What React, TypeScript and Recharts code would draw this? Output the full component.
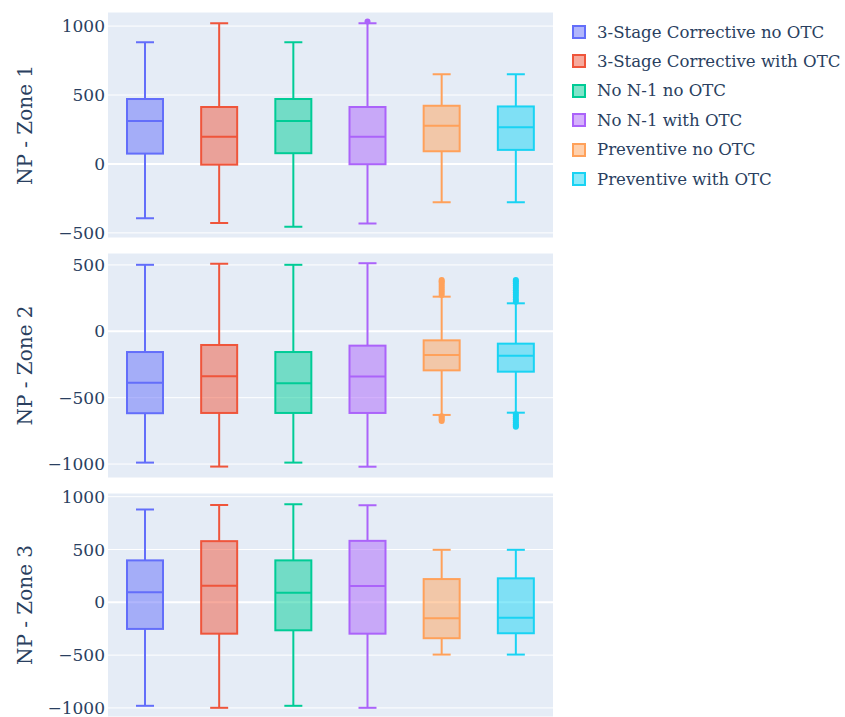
import React from 'react';
import { ComposedChart, Bar, XAxis, YAxis, CartesianGrid } from 'recharts';

const categories = [
  '3-Stage Corrective no OTC',
  '3-Stage Corrective with OTC',
  'No N-1 no OTC',
  'No N-1 with OTC',
  'Preventive no OTC',
  'Preventive with OTC',
];
const colors = ['#636EFA', '#EF553B', '#00CC96', '#AB63FA', '#FFA15A', '#19D3F3'];

// Zone 1
const zone1Min = [-393, -429, -456, -432, -277, -277];
const zone1Q1 = [75, -5, 78, -2, 92, 102];
const zone1Median = [311, 197, 311, 197, 277, 267];
const zone1Q3 = [471, 413, 471, 413, 422, 417];
const zone1Max = [883, 1021, 883, 1021, 650, 650];
const zone1Outliers = [[], [], [], [1033], [], []];
const zone1Ticks = [-500, 0, 500, 1000];

// Zone 2
const zone2Min = [-989, -1019, -989, -1020, -630, -613];
const zone2Q1 = [-617, -615, -615, -615, -294, -304];
const zone2Median = [-387, -339, -392, -340, -178, -184];
const zone2Q3 = [-156, -103, -156, -108, -68, -93];
const zone2Max = [501, 509, 501, 513, 261, 211];
const zone2Outliers = [
  [],
  [],
  [],
  [],
  [274, 290, 305, 320, 335, 350, 365, 378, 386, -640, -652, -664, -675],
  [223, 240, 258, 275, 292, 310, 328, 345, 362, 378, 386, -625, -640, -655, -670, -685, -700, -712, -718],
];
const zone2Ticks = [-1000, -500, 0, 500];

// Zone 3
const zone3Min = [-980, -999, -980, -999, -495, -495];
const zone3Q1 = [-252, -297, -265, -297, -340, -293];
const zone3Median = [95, 157, 91, 154, -151, -146];
const zone3Q3 = [397, 579, 397, 582, 220, 227];
const zone3Max = [879, 922, 929, 920, 497, 497];
const zone3Outliers = [[], [], [], [], [], []];
const zone3Ticks = [-1000, -500, 0, 500, 1000];

const FONT = '"DejaVu Serif", serif';
const TEXT = '#2a3f5f';

function buildRows(min: number[], q1: number[], med: number[], q3: number[], max: number[], out: number[][]) {
  return categories.map((name, i) => ({
    name,
    idx: i,
    min: min[i],
    q1: q1[i],
    median: med[i],
    q3: q3[i],
    max: max[i],
    outliers: out[i],
    range: [min[i], max[i]],
  }));
}

const BoxShape = (props: any) => {
  const { x, y, width, height, payload } = props;
  if (!payload) return null;
  const top = Math.min(y, y + height);
  const bot = Math.max(y, y + height);
  const span = payload.max - payload.min;
  const py = (v: number) => top + ((payload.max - v) / span) * (bot - top);
  const c = colors[payload.idx];
  const cx = x + width / 2;
  const cap = width / 4;
  return (
    <g>
      <line x1={cx} x2={cx} y1={py(payload.max)} y2={py(payload.q3)} stroke={c} strokeWidth={2} />
      <line x1={cx} x2={cx} y1={py(payload.q1)} y2={py(payload.min)} stroke={c} strokeWidth={2} />
      <line x1={cx - cap} x2={cx + cap} y1={py(payload.max)} y2={py(payload.max)} stroke={c} strokeWidth={2} />
      <line x1={cx - cap} x2={cx + cap} y1={py(payload.min)} y2={py(payload.min)} stroke={c} strokeWidth={2} />
      <rect
        x={x}
        y={py(payload.q3)}
        width={width}
        height={py(payload.q1) - py(payload.q3)}
        fill={c}
        fillOpacity={0.5}
        stroke={c}
        strokeWidth={2}
      />
      <line x1={x} x2={x + width} y1={py(payload.median)} y2={py(payload.median)} stroke={c} strokeWidth={2} />
      {payload.outliers.map((v: number, k: number) => (
        <circle key={k} cx={cx} cy={py(v)} r={3} fill={c} />
      ))}
    </g>
  );
};

const fmt = (v: number) => String(v).replace('-', '\u2212');

type PanelProps = {
  data: any[];
  domain: [number, number];
  ticks: number[];
  label: string;
  top: number;
  width: number;
  height: number;
  mTop: number;
  mBottom: number;
  mRight: number;
};

function Panel({ data, domain, ticks, label, top, width, height, mTop, mBottom, mRight }: PanelProps) {
  const zeroIdx = ticks.indexOf(0);
  const gridLine = (p: any) => (
    <line
      key={`h-${p.index}`}
      x1={p.x1}
      x2={p.x2}
      y1={p.y1}
      y2={p.y2}
      stroke="#ffffff"
      strokeWidth={p.index === zeroIdx ? 2 : 1}
    />
  );
  return (
    <div style={{ position: 'absolute', left: 0, top }}>
      <ComposedChart width={width} height={height} data={data} margin={{ top: mTop, right: mRight, bottom: mBottom, left: 0 }}>
        <CartesianGrid horizontal={gridLine} vertical={false} stroke="#ffffff" fill="#E5ECF6" fillOpacity={1} />
        <XAxis dataKey="name" hide />
        <YAxis
          type="number"
          domain={domain}
          ticks={ticks}
          interval={0}
          allowDataOverflow
          width={108}
          axisLine={false}
          tickLine={false}
          tickSize={0}
          tickMargin={3}
          tickFormatter={fmt}
          tick={{ fontSize: 17, fill: TEXT, fontFamily: FONT }}
          label={{
            value: label,
            angle: -90,
            position: 'insideLeft',
            offset: 25,
            style: { textAnchor: 'middle', fontSize: 20, fill: TEXT, fontFamily: FONT },
          }}
        />
        <Bar dataKey="range" barSize={36} shape={<BoxShape />} isAnimationActive={false} />
      </ComposedChart>
    </div>
  );
}

export default function App() {
  const d1 = buildRows(zone1Min, zone1Q1, zone1Median, zone1Q3, zone1Max, zone1Outliers);
  const d2 = buildRows(zone2Min, zone2Q1, zone2Median, zone2Q3, zone2Max, zone2Outliers);
  const d3 = buildRows(zone3Min, zone3Q1, zone3Median, zone3Q3, zone3Max, zone3Outliers);
  return (
    <div style={{ position: 'absolute', left: 0, top: 0, width: 845, height: 717, background: '#fff', overflow: 'hidden' }}>
      <Panel data={d1} domain={[-537, 1102]} ticks={zone1Ticks} label="NP - Zone 1" top={0} width={560} height={250} mTop={12} mBottom={12} mRight={7} />
      <Panel data={d2} domain={[-1105, 590]} ticks={zone2Ticks} label="NP - Zone 2" top={240} width={560} height={250} mTop={13} mBottom={12} mRight={7} />
      <Panel data={d3} domain={[-1086, 1035]} ticks={zone3Ticks} label="NP - Zone 3" top={483} width={560} height={234} mTop={10} mBottom={0} mRight={7} />
      <div style={{ position: 'absolute', left: 572, top: 18, fontFamily: FONT, color: TEXT, fontSize: 16.6 }}>
        {categories.map((name, i) => (
          <div key={name} style={{ position: 'absolute', left: 0, top: i * 29.4, height: 28, display: 'flex', alignItems: 'center', whiteSpace: 'nowrap' }}>
            <svg width={14} height={14} style={{ display: 'block' }}>
              <rect x={1} y={1} width={12} height={12} fill={colors[i]} fillOpacity={0.5} stroke={colors[i]} strokeWidth={2} />
            </svg>
            <span style={{ marginLeft: 11 }}>{name}</span>
          </div>
        ))}
      </div>
    </div>
  );
}
